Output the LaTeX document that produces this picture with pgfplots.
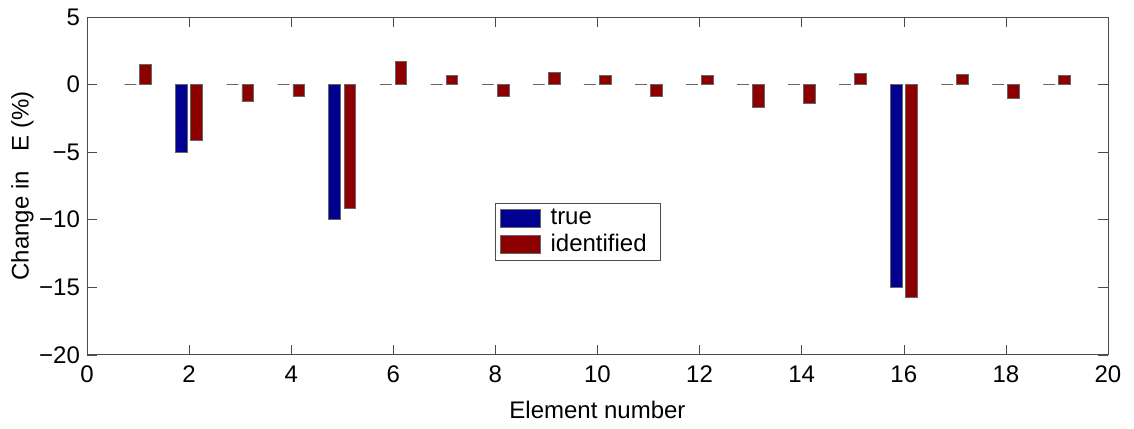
\documentclass[border=0pt]{standalone}
\usepackage{pgfplots}
\pgfplotsset{compat=1.18}
\usepackage{fontspec}
\setmainfont{Liberation Sans}
\definecolor{mtrue}{RGB}{0,0,145}
\definecolor{mident}{RGB}{140,0,0}
\begin{document}
\begin{tikzpicture}
\begin{axis}[
    width=510.5pt, height=169pt,
    scale only axis,
    xmin=0, xmax=20, ymin=-20, ymax=5,
    xtick={0,2,...,20},
    ytick={-20,-15,-10,-5,0,5},
    yticklabels={−20,−15,−10,−5,0,5},
    /pgf/number format/assume math mode=true,
    tick align=inside,
    major tick length=5pt,
    tick style={black!70},
    axis line style={black!70},
    font=\fontsize{12}{14}\selectfont,
    xticklabel style={yshift=-2pt},
    xlabel={Element number},
    ylabel={Change in \ \ E (\%)},
    xlabel style={yshift=-2pt},
    ylabel style={yshift=-4pt},
    legend style={at={(0.40,0.45)}, anchor=north west, draw=black!70,
        font=\fontsize{12}{14}\selectfont, row sep=-1pt,
        inner xsep=2pt, inner ysep=1pt,
        nodes={inner xsep=5pt}},
    legend cell align=left,
    legend image code/.code={\draw[#1] (2pt,-4.5pt) rectangle (22pt,4.5pt);},
]
\addplot[ybar, bar width=0.23, bar shift=-0.15, fill=mtrue, draw=black!60] coordinates {
    (1,0) (2,-5) (3,0) (4,0) (5,-10) (6,0) (7,0) (8,0) (9,0) (10,0)
    (11,0) (12,0) (13,0) (14,0) (15,0) (16,-15) (17,0) (18,0) (19,0)
};
\addlegendentry{true}
\addplot[ybar, bar width=0.23, bar shift=0.15, fill=mident, draw=black!60] coordinates {
    (1,1.5) (2,-4.1) (3,-1.25) (4,-0.85) (5,-9.15) (6,1.7) (7,0.7) (8,-0.9) (9,0.9) (10,0.7)
    (11,-0.9) (12,0.7) (13,-1.7) (14,-1.4) (15,0.8) (16,-15.75) (17,0.75) (18,-1.0) (19,0.7)
};
\addlegendentry{identified}
\coordinate (bl) at (axis description cs:-0.0852,-0.219);
\coordinate (tr) at (axis description cs:1.0255,1.050);
\end{axis}
\path[use as bounding box] (bl) rectangle (tr);
\end{tikzpicture}
\end{document}
